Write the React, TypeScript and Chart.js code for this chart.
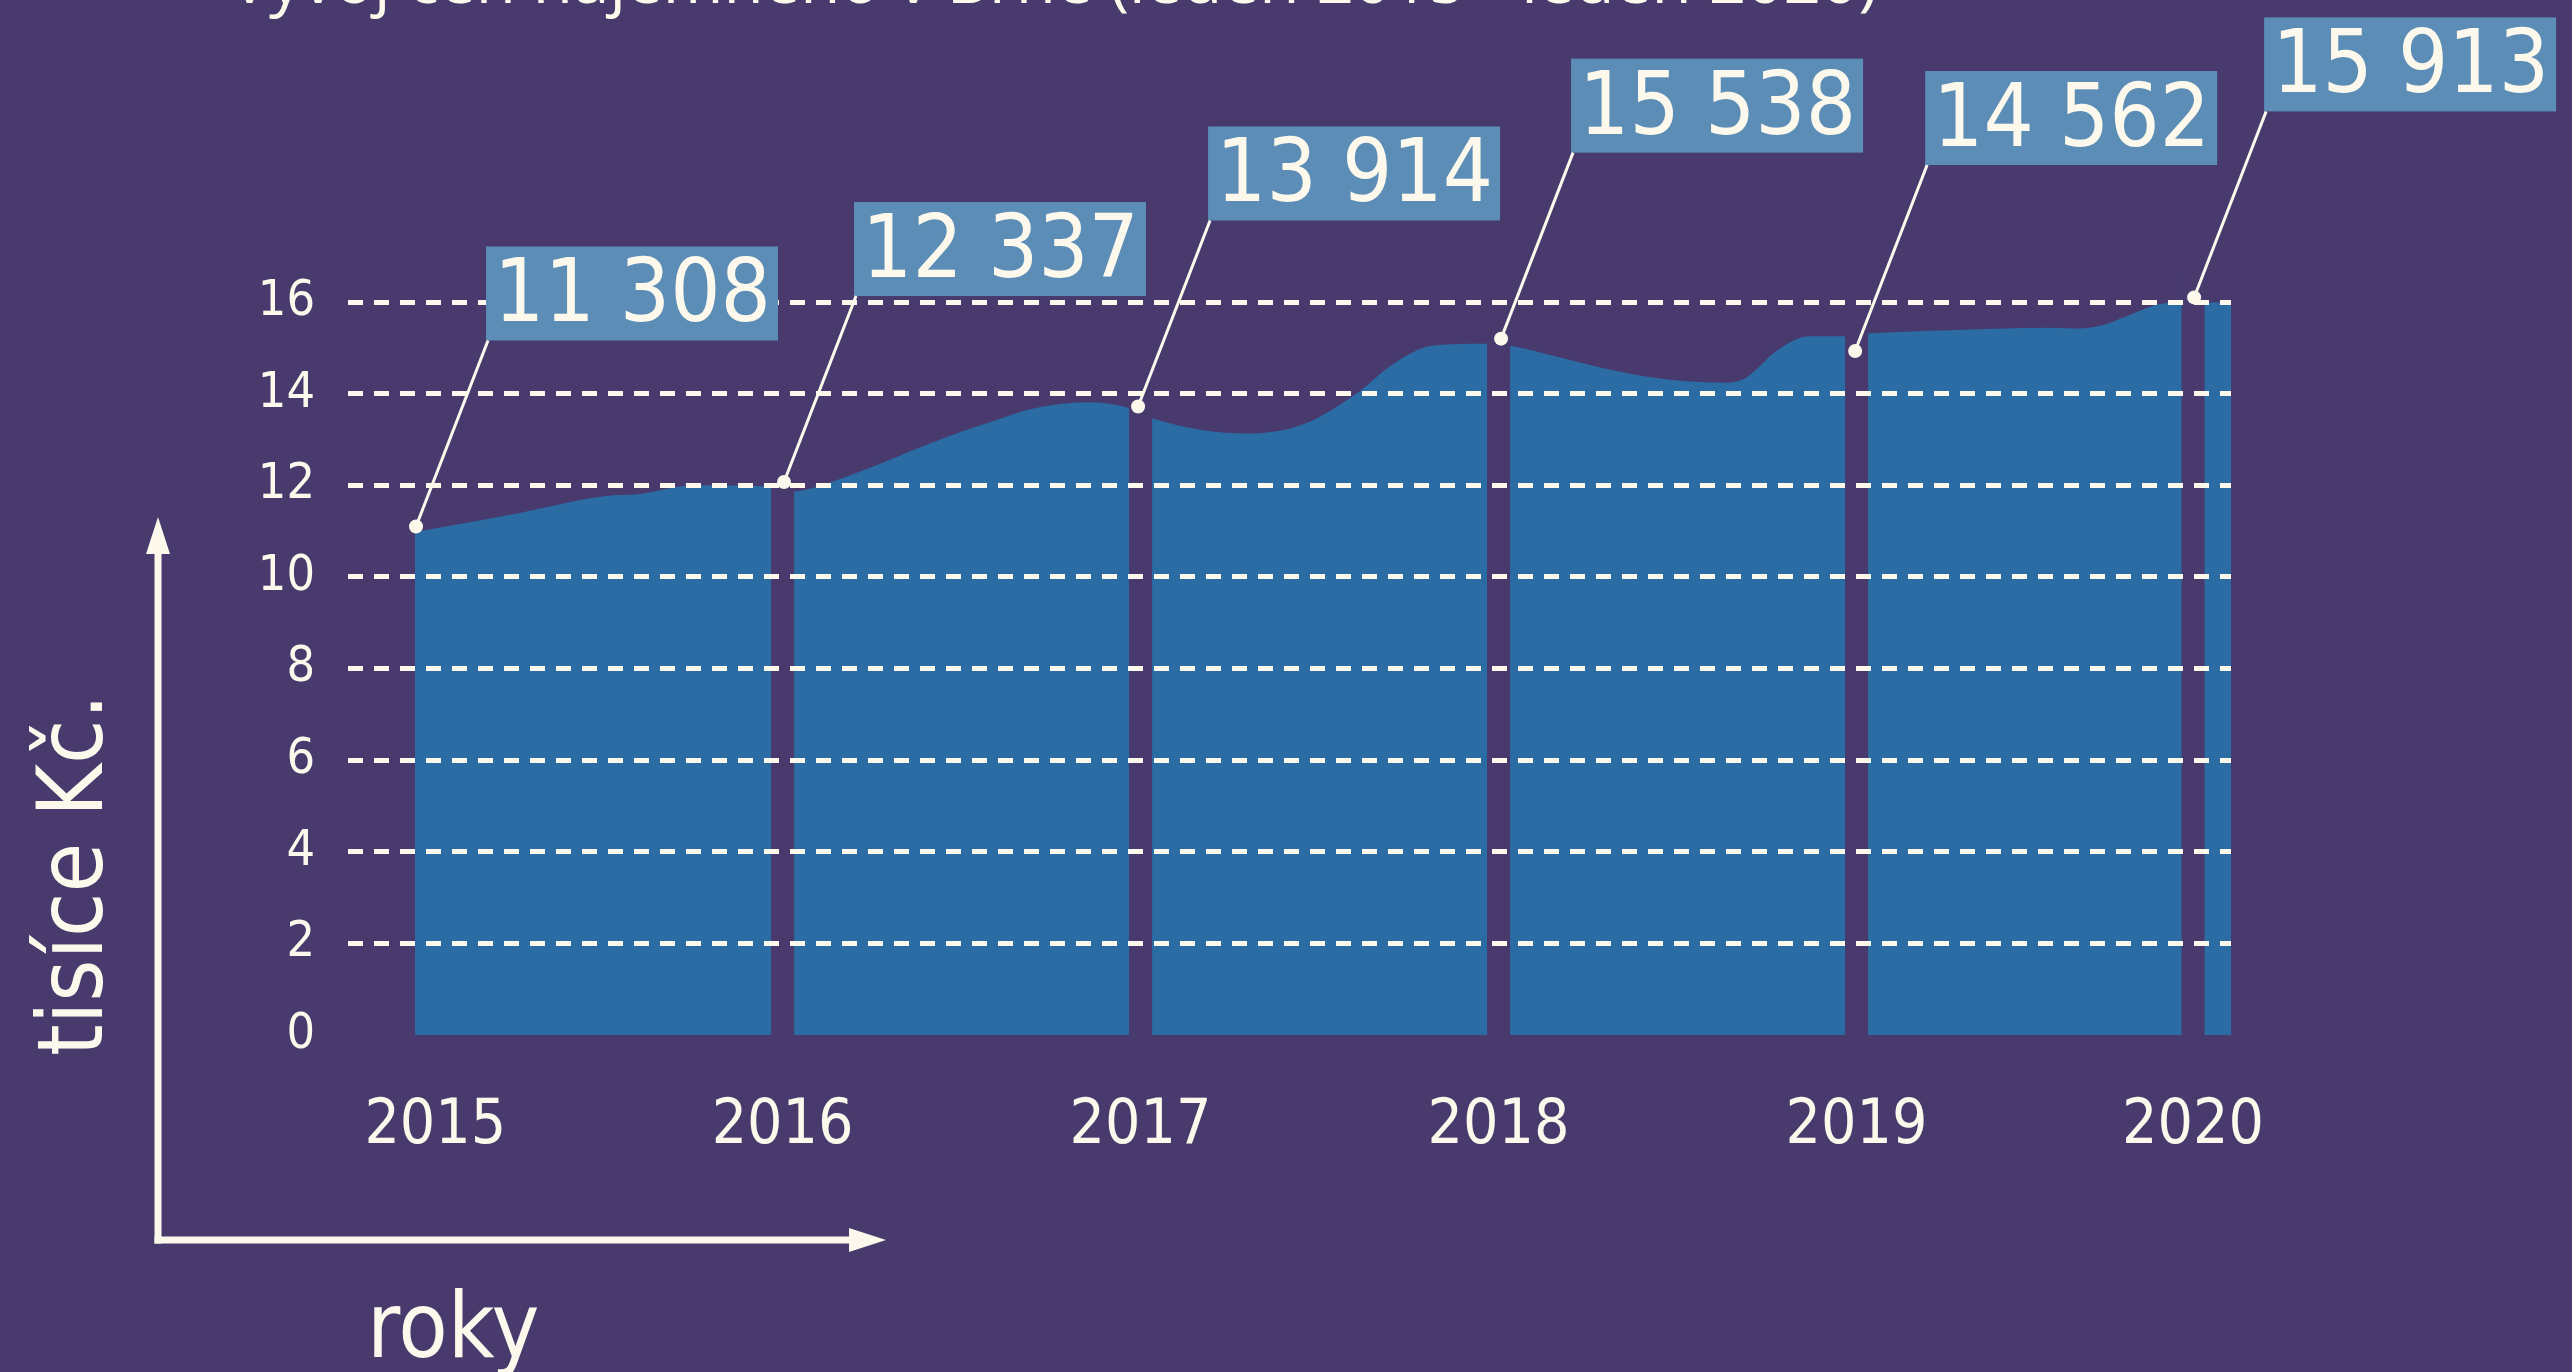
import React, { useEffect, useRef } from "react";
import { Chart, registerables } from "chart.js";

Chart.register(...registerables);

// ---- text ----
const titleText = "Vývoj cen nájemného v Brně (leden 2015 - leden 2020)";
const yAxisTitle = "tisíce Kč.";
const xAxisTitle = "roky";

// ---- area contour (position in years, value in thousands CZK) ----
const contourPositions = [
  2014.973, 2015.255, 2015.526, 2015.59, 2015.753, 2015.96,
  2016.032, 2016.121, 2016.2, 2016.457, 2016.608, 2016.697, 2016.853, 2016.96,
  2017.032, 2017.175, 2017.3, 2017.46, 2017.602, 2017.708, 2017.817, 2017.96,
  2018.029, 2018.172, 2018.35, 2018.493, 2018.635, 2018.688, 2018.778, 2018.868, 2018.965,
  2019.032, 2019.242, 2019.54, 2019.624, 2019.685, 2019.758, 2019.839, 2019.909,
  2019.973, 2020.052,
];
const rentValues = [
  10.98, 11.38, 11.78, 11.8, 12.0, 11.97,
  11.87, 12.03, 12.25, 13.05, 13.45, 13.67, 13.81, 13.7,
  13.46, 13.2, 13.13, 13.35, 14.0, 14.66, 15.05, 15.09,
  15.05, 14.79, 14.46, 14.29, 14.24, 14.33, 14.94, 15.25, 15.25,
  15.31, 15.38, 15.44, 15.42, 15.49, 15.7, 15.94, 15.99,
  15.99, 15.99,
];

// ---- x axis ticks ----
const tickPositions = [2015.03, 2016, 2017, 2018, 2019, 2019.94];
const tickLabels = ["2015", "2016", "2017", "2018", "2019", "2020"];

// ---- year separators ----
const yearBreaks = [2016, 2017, 2018, 2019, 2019.94];

// ---- callouts ----
const calloutPositions = [2014.976, 2016.004, 2016.993, 2018.007, 2018.996, 2019.943];
const calloutDotValues = [11.1, 12.07, 13.72, 15.2, 14.93, 16.1];
const calloutLabels = ["11 308", "12 337", "13 914", "15 538", "14 562", "15 913"];

const BG = "#483a6d";
const AREA = "#2a6ca3";
const BOX = "#5c8db7";
const CREAM = "#fcf9ec";
const FAMILY = "'DejaVu Sans Condensed', 'DejaVu Sans', sans-serif";

const decorPlugin = {
  id: "decor",
  beforeDraw(chart: any) {
    const { ctx, width, height } = chart;
    ctx.save();
    ctx.fillStyle = BG;
    ctx.fillRect(0, 0, width, height);
    ctx.restore();
  },
  afterDatasetsDraw(chart: any) {
    const { ctx, chartArea, scales } = chart;
    const x = scales.x;
    ctx.save();
    ctx.fillStyle = BG;
    yearBreaks.forEach((v) => {
      const px = x.getPixelForValue(v);
      ctx.fillRect(px - 11.5, chartArea.top - 30, 23, chartArea.bottom - chartArea.top + 32);
    });
    ctx.restore();
  },
  afterDraw(chart: any) {
    const { ctx, scales } = chart;
    const x = scales.x;
    const y = scales.y;
    ctx.save();

    // title (cut off at top, as in reference)
    ctx.fillStyle = CREAM;
    ctx.textBaseline = "alphabetic";
    ctx.textAlign = "left";
    ctx.font = "60px 'Open Sans', sans-serif";
    const w60 = ctx.measureText(titleText).width;
    const tSize = (60 * 1648) / w60;
    ctx.font = `${tSize}px 'Open Sans', sans-serif`;
    ctx.fillText(titleText, 230, 3);

    // axis arrows
    ctx.strokeStyle = CREAM;
    ctx.fillStyle = CREAM;
    ctx.lineWidth = 7;
    ctx.beginPath();
    ctx.moveTo(158, 1243.5);
    ctx.lineTo(158, 550);
    ctx.stroke();
    ctx.beginPath();
    ctx.moveTo(154.5, 1240);
    ctx.lineTo(851, 1240);
    ctx.stroke();
    ctx.beginPath();
    ctx.moveTo(158, 517);
    ctx.lineTo(146, 554);
    ctx.lineTo(170, 554);
    ctx.closePath();
    ctx.fill();
    ctx.beginPath();
    ctx.moveTo(886, 1240);
    ctx.lineTo(849, 1228);
    ctx.lineTo(849, 1252);
    ctx.closePath();
    ctx.fill();

    // axis titles
    ctx.font = `90px ${FAMILY}`;
    ctx.textAlign = "left";
    ctx.fillText(xAxisTitle, 367, 1357);
    ctx.save();
    ctx.translate(102, 1056);
    ctx.rotate(-Math.PI / 2);
    ctx.fillText(yAxisTitle, 0, 0);
    ctx.restore();

    // callouts
    calloutPositions.forEach((pos, i) => {
      const px = x.getPixelForValue(pos);
      const py = y.getPixelForValue(calloutDotValues[i]);
      const bx = px + 70;
      const bb = py - 186;
      const bw = 292;
      const bh = 94;
      ctx.fillStyle = BOX;
      ctx.fillRect(bx, bb - bh, bw, bh);
      ctx.strokeStyle = CREAM;
      ctx.lineWidth = 3;
      ctx.beginPath();
      ctx.moveTo(bx + 2, bb);
      ctx.lineTo(px, py);
      ctx.stroke();
      ctx.fillStyle = CREAM;
      ctx.beginPath();
      ctx.arc(px, py, 7, 0, Math.PI * 2);
      ctx.fill();
      ctx.font = `88px ${FAMILY}`;
      ctx.textAlign = "left";
      ctx.textBaseline = "alphabetic";
      ctx.fillText(calloutLabels[i], bx + 8, bb - bh + 75);
    });

    ctx.restore();
  },
};

export default function App() {
  const canvasRef = useRef<HTMLCanvasElement | null>(null);

  useEffect(() => {
    const canvas = canvasRef.current;
    if (!canvas) return;
    const chart = new Chart(canvas, {
      type: "line",
      data: {
        datasets: [
          {
            data: contourPositions.map((p, i) => ({ x: p, y: rentValues[i] })),
            fill: "origin",
            backgroundColor: AREA,
            borderWidth: 0,
            borderColor: AREA,
            pointRadius: 0,
            cubicInterpolationMode: "monotone",
            clip: false as any,
          },
        ],
      },
      options: {
        animation: false,
        responsive: false,
        devicePixelRatio: 1,
        layout: { padding: { top: 302, right: 341, bottom: 0, left: 0 } },
        plugins: {
          legend: { display: false },
          tooltip: { enabled: false },
        },
        scales: {
          x: {
            type: "linear",
            min: 2014.786,
            max: 2020.046,
            afterBuildTicks: (axis: any) => {
              axis.ticks = tickPositions.map((value) => ({ value }));
            },
            afterFit: (s: any) => {
              s.height = 337;
            },
            ticks: {
              autoSkip: false,
              maxRotation: 0,
              padding: 47,
              color: CREAM,
              font: { family: FAMILY, size: 62 },
              callback: (_v: any, index: number) => tickLabels[index],
            },
            grid: { display: false },
            border: { display: false },
          },
          y: {
            min: 0,
            max: 16,
            afterFit: (s: any) => {
              s.width = 348;
            },
            ticks: {
              stepSize: 2,
              padding: 33,
              color: CREAM,
              font: { family: FAMILY, size: 50 },
              z: 1,
            },
            grid: {
              z: 1,
              drawTicks: false,
              lineWidth: 5,
              color: (c: any) => (c.tick && c.tick.value === 0 ? "rgba(0,0,0,0)" : CREAM),
            },
            border: { display: false, dash: [15, 11] },
          },
        },
      },
      plugins: [decorPlugin],
    });
    return () => chart.destroy();
  }, []);

  return (
    <div
      style={{
        position: "fixed",
        left: 0,
        top: 0,
        width: "2572px",
        height: "1372px",
        background: BG,
        overflow: "hidden",
      }}
    >
      <canvas ref={canvasRef} width={2572} height={1372} style={{ display: "block" }} />
    </div>
  );
}
